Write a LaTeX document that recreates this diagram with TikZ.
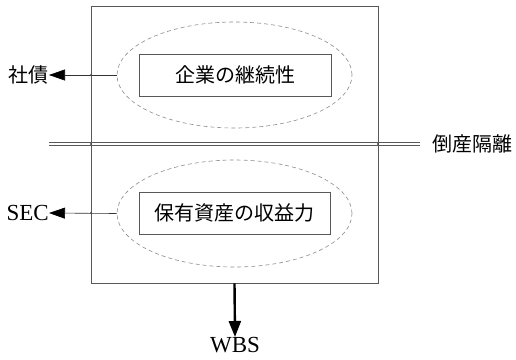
\documentclass[tikz,border=0pt]{standalone}
\usepackage{fontspec}
\setmainfont{Liberation Serif}
\newfontfamily\cjk{Noto Sans CJK JP}
\usetikzlibrary{arrows.meta,shapes.geometric}
\begin{document}
\begin{tikzpicture}[x=1bp,y=-1bp,
  frame/.style={draw=black!65,line width=0.7bp,inner sep=0},
  oval/.style={ellipse,draw=black!45,dashed,dash pattern=on 4bp off 3bp,line width=0.6bp,inner sep=0},
  box/.style={draw=black!65,line width=0.7bp,inner sep=0,font=\cjk\fontsize{20bp}{24bp}\selectfont},
  lbl/.style={inner sep=0,font=\fontsize{23bp}{27bp}\selectfont},
  cjklbl/.style={inner sep=0,font=\cjk\fontsize{20bp}{24bp}\selectfont},
  thinarrow/.style={draw=black!80,line width=0.6bp,-{Triangle[length=16bp,width=11bp,color=black]}},
  thickarrow/.style={draw=black,line width=2.4bp,-{Triangle[length=16bp,width=12bp]}},
  sepline/.style={draw=black!65,line width=0.7bp},
  dot/.style={circle,fill=black!70,inner sep=0,minimum size=2.2bp}
]
\useasboundingbox (0,0) rectangle (516,359);
% outer frame
\node[frame,minimum width=287bp,minimum height=277bp] (outer) at (234.5,144.5) {};
% upper part
\node[oval,minimum width=235bp,minimum height=106bp] (e1) at (234.5,75) {};
\node[box,minimum width=192bp,minimum height=42bp] (b1) at (235,75) {企業の継続性};
% lower part
\node[oval,minimum width=235bp,minimum height=107bp] (e2) at (234.5,213.5) {};
\node[box,minimum width=191bp,minimum height=42bp] (b2) at (234.5,213) {保有資産の収益力};
% side labels
\node[cjklbl,anchor=east] (shasai) at (49,75) {社債};
\node[lbl,anchor=east] (sec) at (49,213) {SEC};
\node[cjklbl,anchor=west] (tousan) at (432,144) {倒産隔離};
\node[lbl,anchor=north] (wbs) at (235,337) {WBS};
% separator (double line)
\coordinate (sepLa) at (49,142.8);
\coordinate (sepRa) at (420,142.8);
\coordinate (sepLb) at (49,145.4);
\coordinate (sepRb) at (420,145.4);
\draw[sepline] (sepLa) -- (sepRa);
\draw[sepline] (sepLb) -- (sepRb);
% arrows
\draw[thinarrow] (e1.west) -- (shasai.east);
\draw[thinarrow] (e2.west) -- (sec.east);
\draw[thickarrow] (outer.south) -- (wbs.north);
% small junction dots
\node[dot] (d1) at (91,75) {};
\node[dot] (d2) at (91,213) {};
\node[dot] (d3) at (91,144) {};
\node[dot] (d4) at (378,144) {};
\end{tikzpicture}
\end{document}
